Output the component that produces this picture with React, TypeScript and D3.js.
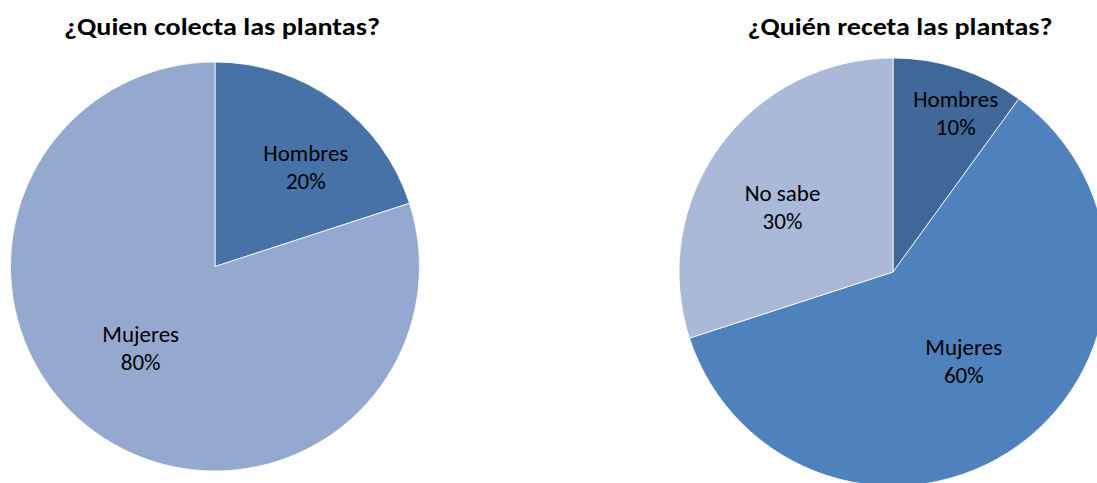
import React from "react";
import * as d3 from "d3";

const leftTitle = "¿Quien colecta las plantas?";
const leftCategories = ["Hombres", "Mujeres"];
const leftValues = [20, 80];
const leftColors = ["#4672A8", "#95A9D0"];

const rightTitle = "¿Quién receta las plantas?";
const rightCategories = ["Hombres", "Mujeres", "No sabe"];
const rightValues = [10, 60, 30];
const rightColors = ["#3F6899", "#4F81BD", "#AAB9D7"];

const FONT = "Carlito, Calibri, 'Open Sans', sans-serif";

function Pie({ cx, cy, r, cats, vals, colors, title, titleX, titleW, labelK, labelShiftDeg }: any) {
  const pie = d3.pie<number>().sort(null).value((d) => d);
  const arcs = pie(vals);
  const arc = d3.arc<d3.PieArcDatum<number>>().innerRadius(0).outerRadius(r);
  const total = d3.sum(vals);
  return (
    <g>
      <text x={titleX} y={35} textAnchor="middle" fontFamily={FONT} fontWeight="bold" fontSize={24}
        textLength={titleW} lengthAdjust="spacingAndGlyphs" fill="#000">{title}</text>
      <g transform={`translate(${cx},${cy})`}>
        {arcs.map((a, i) => (
          <path key={i} d={arc(a) as string} fill={colors[i]} stroke="#fff" strokeWidth={0.8} />
        ))}
        {arcs.map((a, i) => {
          const mid = (a.startAngle + a.endAngle) / 2 + (labelShiftDeg[i] * Math.PI) / 180;
          const lr = r * labelK[i];
          const x = Math.sin(mid) * lr;
          const y = -Math.cos(mid) * lr;
          return (
            <text key={"t" + i} x={x} y={y} textAnchor="middle" fontFamily={FONT} fontSize={23} fill="#000">
              <tspan x={x} dy={-6}>{cats[i]}</tspan>
              <tspan x={x} dy={28}>{d3.format(".0%")(vals[i] / total)}</tspan>
            </text>
          );
        })}
      </g>
    </g>
  );
}

export default function App() {
  return (
    <svg width={1097} height={483} style={{ position: "absolute", left: 0, top: 0, background: "#fff" }}>
      <Pie cx={215} cy={266.5} r={204.5} cats={leftCategories} vals={leftValues} colors={leftColors}
        title={leftTitle} titleX={222} titleW={316} labelK={[0.66, 0.54]} labelShiftDeg={[6.3, 6.3]} />
      <Pie cx={893} cy={272} r={214} cats={rightCategories} vals={rightValues} colors={rightColors}
        title={rightTitle} titleX={900} titleW={305} labelK={[0.8, 0.53, 0.6]} labelShiftDeg={[3.5, -2.6, -5.4]} />
    </svg>
  );
}
